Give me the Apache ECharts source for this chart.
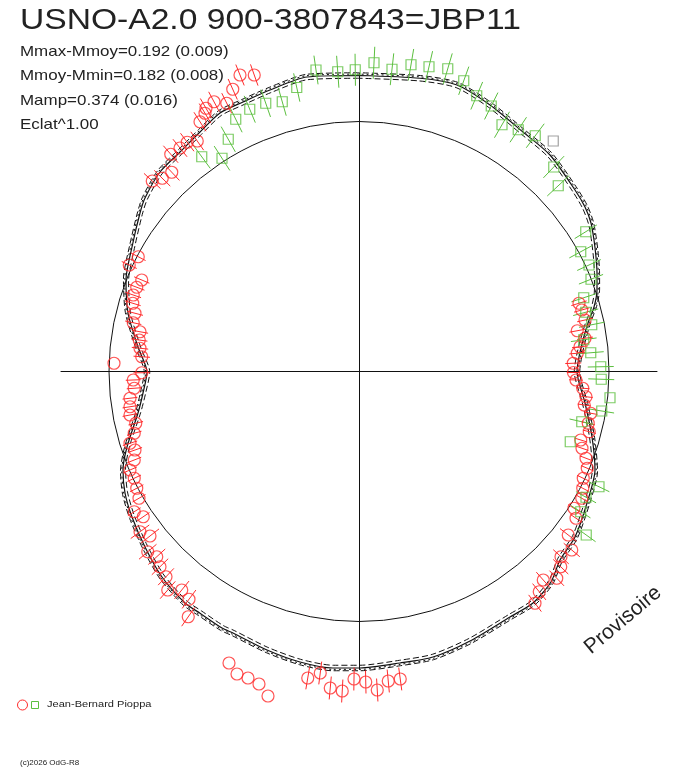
<!DOCTYPE html>
<html><head><meta charset="utf-8">
<script src="https://cdn.jsdelivr.net/npm/echarts@6/dist/echarts.min.js"></script>
<style>html,body{margin:0;padding:0;background:#fff}#c{width:688px;height:768px}</style>
</head><body><div id="c"></div>
<script>
// Polar light curve, plotted in normalised units (reference circle radius = 1)
const titleText = 'USNO-A2.0 900-3807843=JBP11';
const infoLines = ['Mmax-Mmoy=0.192 (0.009)', 'Mmoy-Mmin=0.182 (0.008)', 'Mamp=0.374 (0.016)', 'Eclat^1.00'];
const observer = 'Jean-Bernard Pioppa';
const copyright = '(c)2026 OdG-R8';
const stamp = 'Provisoire';
const refRadius = 1;
const axisExtent = 1.192;
const fitBand = 0.011;

// red series: [x, y, radial error]
const redPts = [
[-0.476,1.186,0.045],[-0.419,1.186,0.045],[-0.505,1.129,0.045],[-0.529,1.073,0.045],[-0.580,1.079,0.045],
[-0.612,1.053,0.045],[-0.616,1.033,0.045],[-0.636,0.999,0.045],[-0.647,0.922,0.045],[-0.687,0.917,0.045],
[-0.716,0.894,0.045],[-0.753,0.869,0.045],[-0.749,0.797,0.045],[-0.787,0.773,0.045],[-0.827,0.762,0.045],
[-0.883,0.459,0.033],[-0.919,0.426,0.033],[-0.869,0.366,0.033],[-0.889,0.337,0.033],[-0.903,0.306,0.033],
[-0.905,0.273,0.033],[-0.896,0.233,0.033],[-0.903,0.195,0.033],[-0.876,0.159,0.033],[-0.879,0.126,0.033],
[-0.876,0.093,0.033],[-0.869,0.059,0.033],[-0.869,-0.005,0.033],
[-0.903,-0.034,0.03],[-0.899,-0.067,0.03],[-0.916,-0.107,0.03],[-0.916,-0.141,0.03],[-0.916,-0.174,0.03],
[-0.893,-0.207,0.03],[-0.899,-0.247,0.03],[-0.916,-0.287,0.03],[-0.896,-0.314,0.03],[-0.899,-0.354,0.03],
[-0.916,-0.394,0.03],[-0.899,-0.427,0.03],[-0.889,-0.467,0.03],[-0.880,-0.507,0.03],[-0.899,-0.561,0.03],
[-0.863,-0.581,0.03],
[-0.876,-0.641,0.046],[-0.836,-0.658,0.046],[-0.845,-0.721,0.046],[-0.809,-0.741,0.046],[-0.796,-0.781,0.046],
[-0.772,-0.821,0.046],[-0.765,-0.874,0.046],[-0.709,-0.874,0.046],[-0.680,-0.911,0.046],[-0.683,-0.981,0.046],
[-0.205,-1.226,0.046],[-0.155,-1.206,0.046],[-0.115,-1.266,0.046],[-0.067,-1.278,0.046],[-0.020,-1.230,0.046],
[0.027,-1.242,0.046],[0.073,-1.274,0.046],[0.117,-1.238,0.046],[0.165,-1.230,0.046],
[0.858,-0.004,0.027],[0.868,-0.034,0.027],[0.895,-0.067,0.027],[0.908,-0.101,0.027],[0.901,-0.134,0.027],
[0.927,-0.167,0.027],[0.917,-0.207,0.027],[0.921,-0.241,0.027],[0.887,-0.274,0.027],[0.892,-0.307,0.027],
[0.908,-0.347,0.027],[0.913,-0.387,0.027],[0.897,-0.427,0.027],[0.895,-0.467,0.027],[0.891,-0.507,0.027],
[0.860,-0.547,0.027],[0.868,-0.587,0.027],
[0.837,-0.654,0.042],[0.851,-0.714,0.042],[0.808,-0.741,0.042],[0.807,-0.781,0.042],[0.791,-0.827,0.042],
[0.737,-0.834,0.042],[0.721,-0.881,0.042],[0.704,-0.927,0.042],
[0.880,0.273,0.032],[0.891,0.246,0.032],[0.904,0.206,0.032],[0.873,0.163,0.032],[0.904,0.133,0.032],
[0.884,0.099,0.032],[0.873,0.073,0.032],[0.857,0.033,0.032]
];
// red points without error bar: [x, y]
const redNoErr = [[-0.520,-1.166],[-0.488,-1.210],[-0.444,-1.226],[-0.400,-1.250],[-0.364,-1.298],[-0.980,0.033]];

// green series: [x, y, radial error]
const greenPts = [
[-0.172,1.206,0.058],[-0.249,1.136,0.058],[-0.307,1.079,0.058],[-0.373,1.073,0.058],[-0.437,1.049,0.058],
[-0.493,1.009,0.058],[-0.523,0.929,0.058],[-0.629,0.859,0.058],[-0.548,0.853,0.058],
[-0.085,1.199,0.064],[-0.015,1.207,0.064],[0.060,1.235,0.064],[0.132,1.209,0.064],[0.208,1.227,0.064],
[0.280,1.219,0.064],[0.355,1.211,0.064],
[0.419,1.163,0.06],[0.471,1.103,0.06],[0.529,1.062,0.06],[0.572,0.987,0.06],[0.637,0.967,0.06],
[0.705,0.943,0.06],[0.779,0.818,0.06],[0.797,0.743,0.06],
[0.907,0.559,0.052],[0.887,0.479,0.052],[0.920,0.426,0.052],[0.928,0.369,0.052],[0.899,0.295,0.052],
[0.907,0.237,0.052],[0.931,0.187,0.052],[0.899,0.127,0.052],[0.927,0.075,0.052],[0.967,0.019,0.052],
[0.969,-0.031,0.052],[0.971,-0.158,0.05],[0.891,-0.201,0.05],
[0.960,-0.461,0.046],[0.908,-0.503,0.046],[0.887,-0.561,0.046],[0.909,-0.654,0.046]
];
const greenNoErr = [[1.004,-0.105],[0.845,-0.281]];
const greyPts = [[0.777,0.922]];

// fitted light curve, read along its path
const fitCurve = [
[0.000,1.184],[-0.208,1.178],[-0.356,1.126],[-0.464,1.078],[-0.556,1.034],[-0.636,0.958],[-0.716,0.878],
[-0.796,0.798],[-0.856,0.694],[-0.876,0.634],[-0.908,0.498],[-0.932,0.366],[-0.924,0.234],[-0.884,0.098],
[-0.848,-0.002],[-0.864,-0.086],[-0.884,-0.166],[-0.928,-0.302],[-0.944,-0.394],[-0.936,-0.486],[-0.908,-0.582],
[-0.856,-0.702],[-0.788,-0.822],[-0.696,-0.926],[-0.636,-0.967],[-0.548,-1.026],[-0.504,-1.046],[-0.368,-1.114],
[-0.236,-1.162],[-0.104,-1.186],[0.004,-1.186],[0.164,-1.166],[0.296,-1.142],[0.444,-1.078],[0.604,-0.982],
[0.696,-0.926],[0.768,-0.842],[0.804,-0.754],[0.864,-0.662],[0.912,-0.526],[0.944,-0.394],[0.932,-0.262],
[0.904,-0.126],[0.872,0.000],[0.880,0.058],[0.896,0.126],[0.916,0.194],[0.940,0.258],[0.952,0.326],
[0.952,0.394],[0.948,0.458],[0.940,0.526],[0.928,0.594],[0.904,0.658],[0.864,0.726],[0.764,0.866],
[0.656,0.958],[0.524,1.066],[0.392,1.146],[0.244,1.173],[0.000,1.184]
];

const RED = '#ff2b2b', GREEN = '#5cbf3f', GREY = '#8a8a8a';
const chart = echarts.init(document.getElementById('c'), null, {renderer: 'canvas'});

function offsetCurve(pts, d) {
  return pts.map(p => { const r = Math.hypot(p[0], p[1]); const f = (r + d) / r; return [p[0] * f, p[1] * f]; });
}
function errBarSeries(data, color) {
  return {
    type: 'custom', data: data, clip: false, silent: true, z: 3,
    renderItem: function (params, api) {
      const x = api.value(0), y = api.value(1), e = api.value(2);
      const r = Math.hypot(x, y), ux = x / r, uy = y / r;
      const a = api.coord([x - ux * e, y - uy * e]);
      const b = api.coord([x + ux * e, y + uy * e]);
      return {type: 'line', shape: {x1: a[0], y1: a[1], x2: b[0], y2: b[1]}, style: {stroke: color, lineWidth: 1}};
    }
  };
}
function markerSeries(data, symbol, size, color) {
  return {
    type: 'scatter', data: data.map(p => [p[0], p[1]]), symbol: symbol, symbolSize: size, clip: false, silent: true, z: 4,
    itemStyle: {color: 'rgba(0,0,0,0)', borderColor: color, borderWidth: 1.2}
  };
}
const axisCommon = {
  type: 'value', min: -axisExtent, max: axisExtent,
  axisLine: {show: true, onZero: true, lineStyle: {color: '#111', width: 1}},
  axisTick: {show: false}, axisLabel: {show: false}, splitLine: {show: false}
};
const fnt = 'Liberation Sans, Arial, sans-serif';
const textEl = (txt, x, y, size, sx, extra) => Object.assign({
  type: 'text', x: x, y: y, scaleX: sx, silent: true,
  style: {text: txt, fontSize: size, fontFamily: fnt, fill: '#222', verticalAlign: 'middle', align: 'left'}
}, extra || {});

const graphics = [textEl(titleText, 20, 21, 30, 1.12)];
infoLines.forEach((t, i) => graphics.push(textEl(t, 20, 52 + i * 24.3, 15, 1.13)));
graphics.push({type: 'circle', shape: {cx: 22.5, cy: 705, r: 5}, style: {fill: 'none', stroke: RED, lineWidth: 1}, silent: true});
graphics.push({type: 'rect', shape: {x: 31.5, y: 701.5, width: 7, height: 7}, style: {fill: 'none', stroke: GREEN, lineWidth: 1}, silent: true});
graphics.push(textEl(observer, 47, 705, 8.5, 1.3));
graphics.push(textEl(copyright, 20, 763, 8, 1.0));
graphics.push({type: 'text', x: 623, y: 620, rotation: 40 * Math.PI / 180, silent: true,
  style: {text: stamp, fontSize: 21, fontFamily: fnt, fill: '#222', align: 'center', verticalAlign: 'middle'}});

chart.setOption({
  animation: false,
  backgroundColor: '#fff',
  grid: {left: 61, top: 73.5, width: 596, height: 596},
  xAxis: axisCommon,
  yAxis: axisCommon,
  graphic: graphics,
  series: [
    {
      type: 'custom', data: [[0, 0, refRadius]], clip: false, silent: true, z: 1,
      renderItem: function (params, api) {
        const c = api.coord([api.value(0), api.value(1)]);
        const s = api.size([api.value(2), api.value(2)]);
        return {type: 'circle', shape: {cx: c[0], cy: c[1], r: s[0]}, style: {fill: 'none', stroke: '#111', lineWidth: 1}};
      }
    },
    {type: 'line', data: fitCurve, smooth: 0.25, symbol: 'none', clip: false, silent: true, z: 2,
      lineStyle: {color: '#111', width: 1.2}},
    {type: 'line', data: offsetCurve(fitCurve, fitBand), smooth: 0.25, symbol: 'none', clip: false, silent: true, z: 2,
      lineStyle: {color: '#111', width: 1, type: [6, 3]}},
    {type: 'line', data: offsetCurve(fitCurve, -fitBand), smooth: 0.25, symbol: 'none', clip: false, silent: true, z: 2,
      lineStyle: {color: '#111', width: 1, type: [6, 3]}},
    {type: 'line', data: offsetCurve(fitCurve, fitBand * 0.5), smooth: 0.25, symbol: 'none', clip: false, silent: true, z: 2,
      lineStyle: {color: '#111', width: 1, type: [2, 3]}},
    errBarSeries(redPts, RED),
    errBarSeries(greenPts, GREEN),
    markerSeries(redPts, 'circle', 12, RED),
    markerSeries(redNoErr, 'circle', 12, RED),
    markerSeries(greenPts, 'rect', 10, GREEN),
    markerSeries(greenNoErr, 'rect', 10, GREEN),
    markerSeries(greyPts, 'rect', 10, GREY)
  ]
});
</script></body></html>
